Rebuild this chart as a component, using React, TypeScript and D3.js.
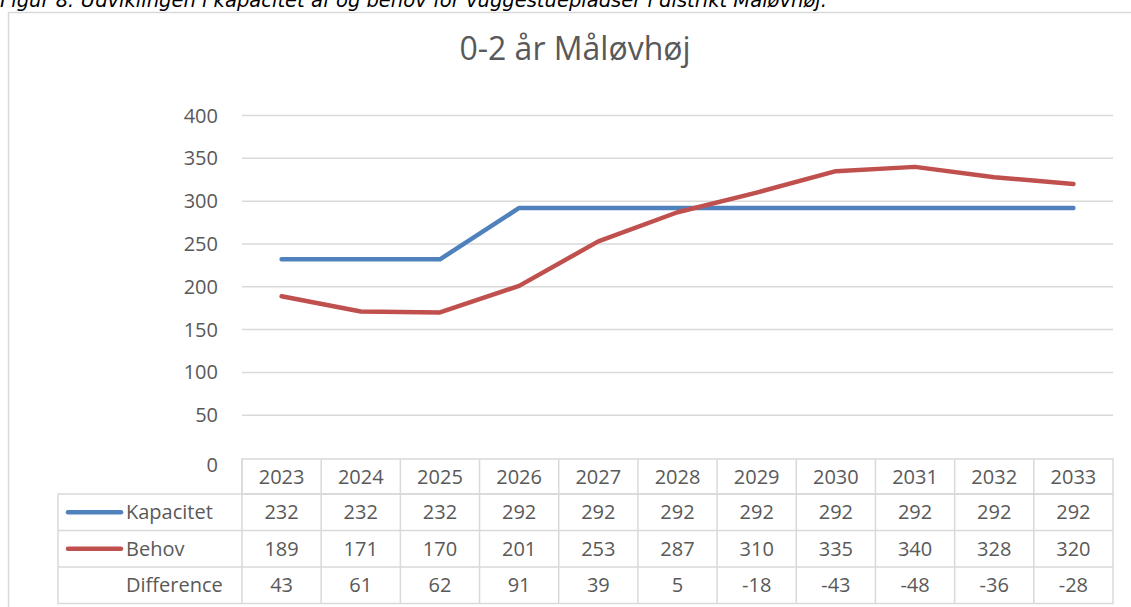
import * as d3 from "d3";

const years = ["2023", "2024", "2025", "2026", "2027", "2028", "2029", "2030", "2031", "2032", "2033"];
const kapacitet = [232, 232, 232, 292, 292, 292, 292, 292, 292, 292, 292];
const behov = [189, 171, 170, 201, 253, 287, 310, 335, 340, 328, 320];
const difference = [43, 61, 62, 91, 39, 5, -18, -43, -48, -36, -28];
const yTicks = [0, 50, 100, 150, 200, 250, 300, 350, 400];

const W = 1131;
const H = 607;
const FONT = "'Open Sans', 'Noto Sans', sans-serif";
const TXT = "#595959";
const GRID = "#D9D9D9";
const BLUE = "#4F81BD";
const RED = "#C0504D";
const FS = 20;

export default function App() {
  const x = d3.scaleBand<string>().domain(years).range([242, 1113]).padding(0);
  const y = d3.scaleLinear().domain([0, 400]).range([458, 115.5]);

  const line = d3
    .line<number>()
    .x((_, i) => (x(years[i]) ?? 0) + x.bandwidth() / 2)
    .y((d) => y(d));

  // table rows
  const headTop = 459;
  const rowTops = [494, 530.5, 567];
  const rowH = 36.5;
  const labelLeft = 58;
  const tableRight = 1113;
  const rows = [
    { name: "Kapacitet", values: kapacitet, color: BLUE },
    { name: "Behov", values: behov, color: RED },
    { name: "Difference", values: difference, color: null },
  ];

  return (
    <div style={{ position: "fixed", left: 0, top: 0, width: W, height: H, background: "#fff" }}>
      <svg width={W} height={H} style={{ display: "block" }}>
        <text
          x={0}
          y={7}
          fontFamily="'DejaVu Sans', Verdana, sans-serif"
          fontStyle="italic"
          fontSize={19}
          fill="#000"
          textLength={827}
          lengthAdjust="spacingAndGlyphs"
        >
          Figur 8: Udviklingen i kapacitet af og behov for vuggestuepladser i distrikt Måløvhøj.
        </text>
        <rect x={8.5} y={12.5} width={1140} height={620} fill="#fff" stroke={GRID} strokeWidth={1.5} />

        <text x={575} y={60} textAnchor="middle" fontFamily={FONT} fontSize={32} fill={TXT}>
          0-2 år Måløvhøj
        </text>

        {yTicks.map((t) => (
          <g key={t}>
            {t > 0 && (
              <line x1={242} x2={1113} y1={y(t)} y2={y(t)} stroke={GRID} strokeWidth={1.5} />
            )}
            <text
              x={218}
              y={y(t) + (t === 0 ? 14 : 7)}
              textAnchor="end"
              fontFamily={FONT}
              fontSize={FS}
              fill={TXT}
            >
              {t}
            </text>
          </g>
        ))}

        <path d={line(kapacitet) ?? ""} fill="none" stroke={BLUE} strokeWidth={4.5} strokeLinecap="round" strokeLinejoin="round" />
        <path d={line(behov) ?? ""} fill="none" stroke={RED} strokeWidth={4.5} strokeLinecap="round" strokeLinejoin="round" />

        {/* data table */}
        <g fill="none" stroke={GRID} strokeWidth={1.5}>
          <rect x={242} y={headTop} width={tableRight - 242} height={rowTops[0] - headTop} />
          <rect x={labelLeft} y={rowTops[0]} width={tableRight - labelLeft} height={rowH * 3} />
          {rowTops.slice(1).map((t) => (
            <line key={t} x1={labelLeft} x2={tableRight} y1={t} y2={t} />
          ))}
          {years.map((yr) => (
            <line key={yr} x1={x(yr)} x2={x(yr)} y1={headTop} y2={rowTops[0] + rowH * 3} />
          ))}
        </g>
        {years.map((yr) => (
          <text
            key={yr}
            x={(x(yr) ?? 0) + x.bandwidth() / 2}
            y={headTop + 25}
            textAnchor="middle"
            fontFamily={FONT}
            fontSize={FS}
            fill={TXT}
          >
            {yr}
          </text>
        ))}
        {rows.map((r, ri) => (
          <g key={r.name}>
            {r.color && (
              <line
                x1={68}
                x2={121}
                y1={rowTops[ri] + rowH / 2}
                y2={rowTops[ri] + rowH / 2}
                stroke={r.color}
                strokeWidth={4.5}
                strokeLinecap="round"
              />
            )}
            <text x={126} y={rowTops[ri] + 25} fontFamily={FONT} fontSize={FS} fill={TXT}>
              {r.name}
            </text>
            {r.values.map((v, i) => (
              <text
                key={i}
                x={(x(years[i]) ?? 0) + x.bandwidth() / 2}
                y={rowTops[ri] + 25}
                textAnchor="middle"
                fontFamily={FONT}
                fontSize={FS}
                fill={TXT}
              >
                {v}
              </text>
            ))}
          </g>
        ))}
      </svg>
    </div>
  );
}
